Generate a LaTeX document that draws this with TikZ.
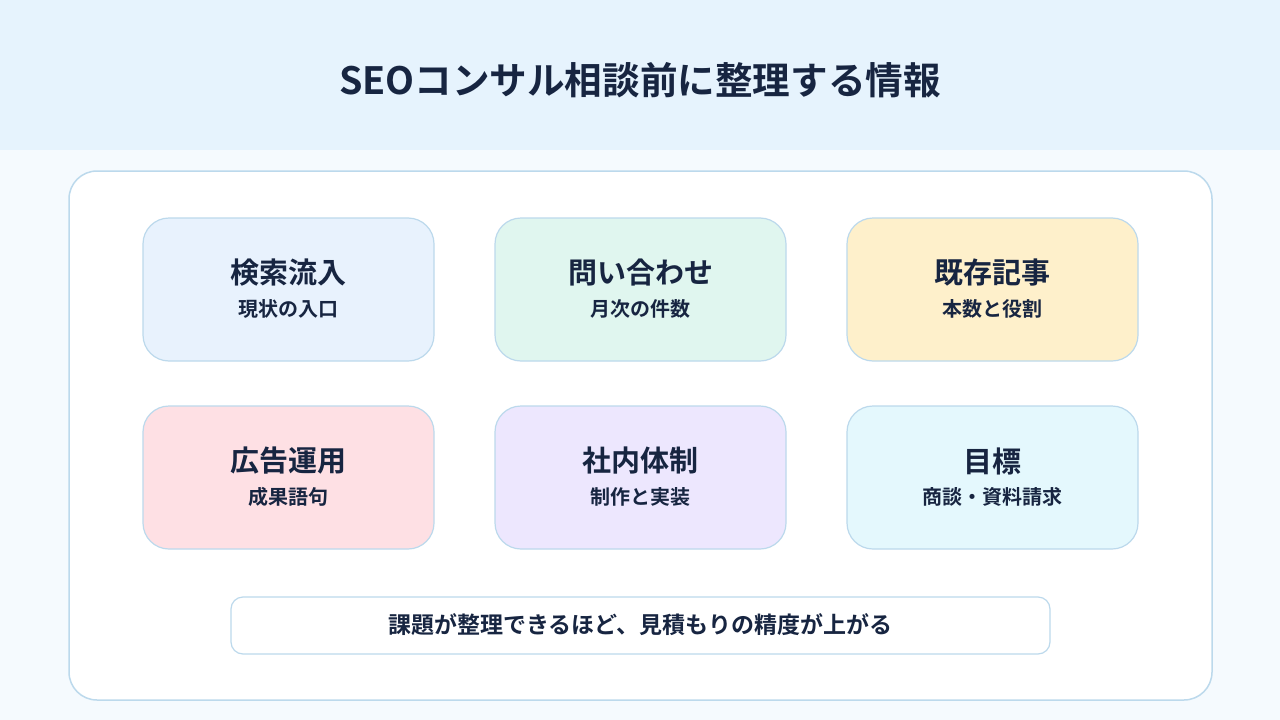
\documentclass[tikz,border=0pt]{standalone}
\usepackage{fontspec}
\setmainfont{Noto Sans CJK JP}[BoldFont={* Bold}]
\newfontfamily\jpb{Noto Sans CJK JP Bold}
\definecolor{ink}{HTML}{172541}
\definecolor{hdr}{HTML}{E6F3FD}
\definecolor{bgc}{HTML}{F5FAFE}
\definecolor{edge}{HTML}{BCD9EC}
\definecolor{cblue}{HTML}{E8F2FD}
\definecolor{cgreen}{HTML}{E0F6EF}
\definecolor{cyellow}{HTML}{FEF0CB}
\definecolor{cpink}{HTML}{FEE0E4}
\definecolor{cviolet}{HTML}{EDE7FE}
\definecolor{ccyan}{HTML}{E4F8FD}
\tikzset{
  card/.style={draw=edge, line width=1.2pt, rounded corners=26pt, minimum width=291pt, minimum height=143pt, inner sep=0pt},
  ttl/.style={text=ink, font=\jpb\fontsize{29}{33}\selectfont, inner sep=0pt},
  sub/.style={text=ink, font=\jpb\fontsize{20}{24}\selectfont, inner sep=0pt},
}
\begin{document}
\begin{tikzpicture}[x=1pt,y=-1pt]
\useasboundingbox (0,0) rectangle (1280,720);
\fill[bgc] (0,0) rectangle (1280,720);
\fill[hdr] (0,0) rectangle (1280,150);
\node[text=ink, font=\jpb\fontsize{37.6}{44}\selectfont, inner sep=0pt] (title) at (640,80) {SEOコンサル相談前に整理する情報};
\node[draw=edge, fill=white, line width=1.5pt, rounded corners=28pt, minimum width=1143pt, minimum height=529pt, inner sep=0pt] (panel) at (640.5,435.5) {};
% row 1
\node[card, fill=cblue] (c1) at (288.5,289.5) {};
\node[ttl] (c1t) at (288.5,273) {検索流入};
\node[sub] (c1s) at (288.5,309) {現状の入口};
\node[card, fill=cgreen] (c2) at (640.5,289.5) {};
\node[ttl] (c2t) at (640.5,273) {問い合わせ};
\node[sub] (c2s) at (640.5,309) {月次の件数};
\node[card, fill=cyellow] (c3) at (992.5,289.5) {};
\node[ttl] (c3t) at (992.5,273) {既存記事};
\node[sub] (c3s) at (992.5,309) {本数と役割};
% row 2
\node[card, fill=cpink] (c4) at (288.5,477.5) {};
\node[ttl] (c4t) at (288.5,461) {広告運用};
\node[sub] (c4s) at (288.5,497) {成果語句};
\node[card, fill=cviolet] (c5) at (640.5,477.5) {};
\node[ttl] (c5t) at (640.5,461) {社内体制};
\node[sub] (c5s) at (640.5,497) {制作と実装};
\node[card, fill=ccyan] (c6) at (992.5,477.5) {};
\node[ttl] (c6t) at (992.5,461) {目標};
\node[sub] (c6s) at (992.5,497) {商談・資料請求};
% bottom
\node[draw=edge, fill=white, line width=1.2pt, rounded corners=12pt, minimum width=819pt, minimum height=57pt, inner sep=0pt] (bar) at (640.5,625.5) {};
\node[text=ink, font=\jpb\fontsize{23}{27}\selectfont, inner sep=0pt] (bart) at (640.5,625) {課題が整理できるほど、見積もりの精度が上がる};
\end{tikzpicture}
\end{document}
